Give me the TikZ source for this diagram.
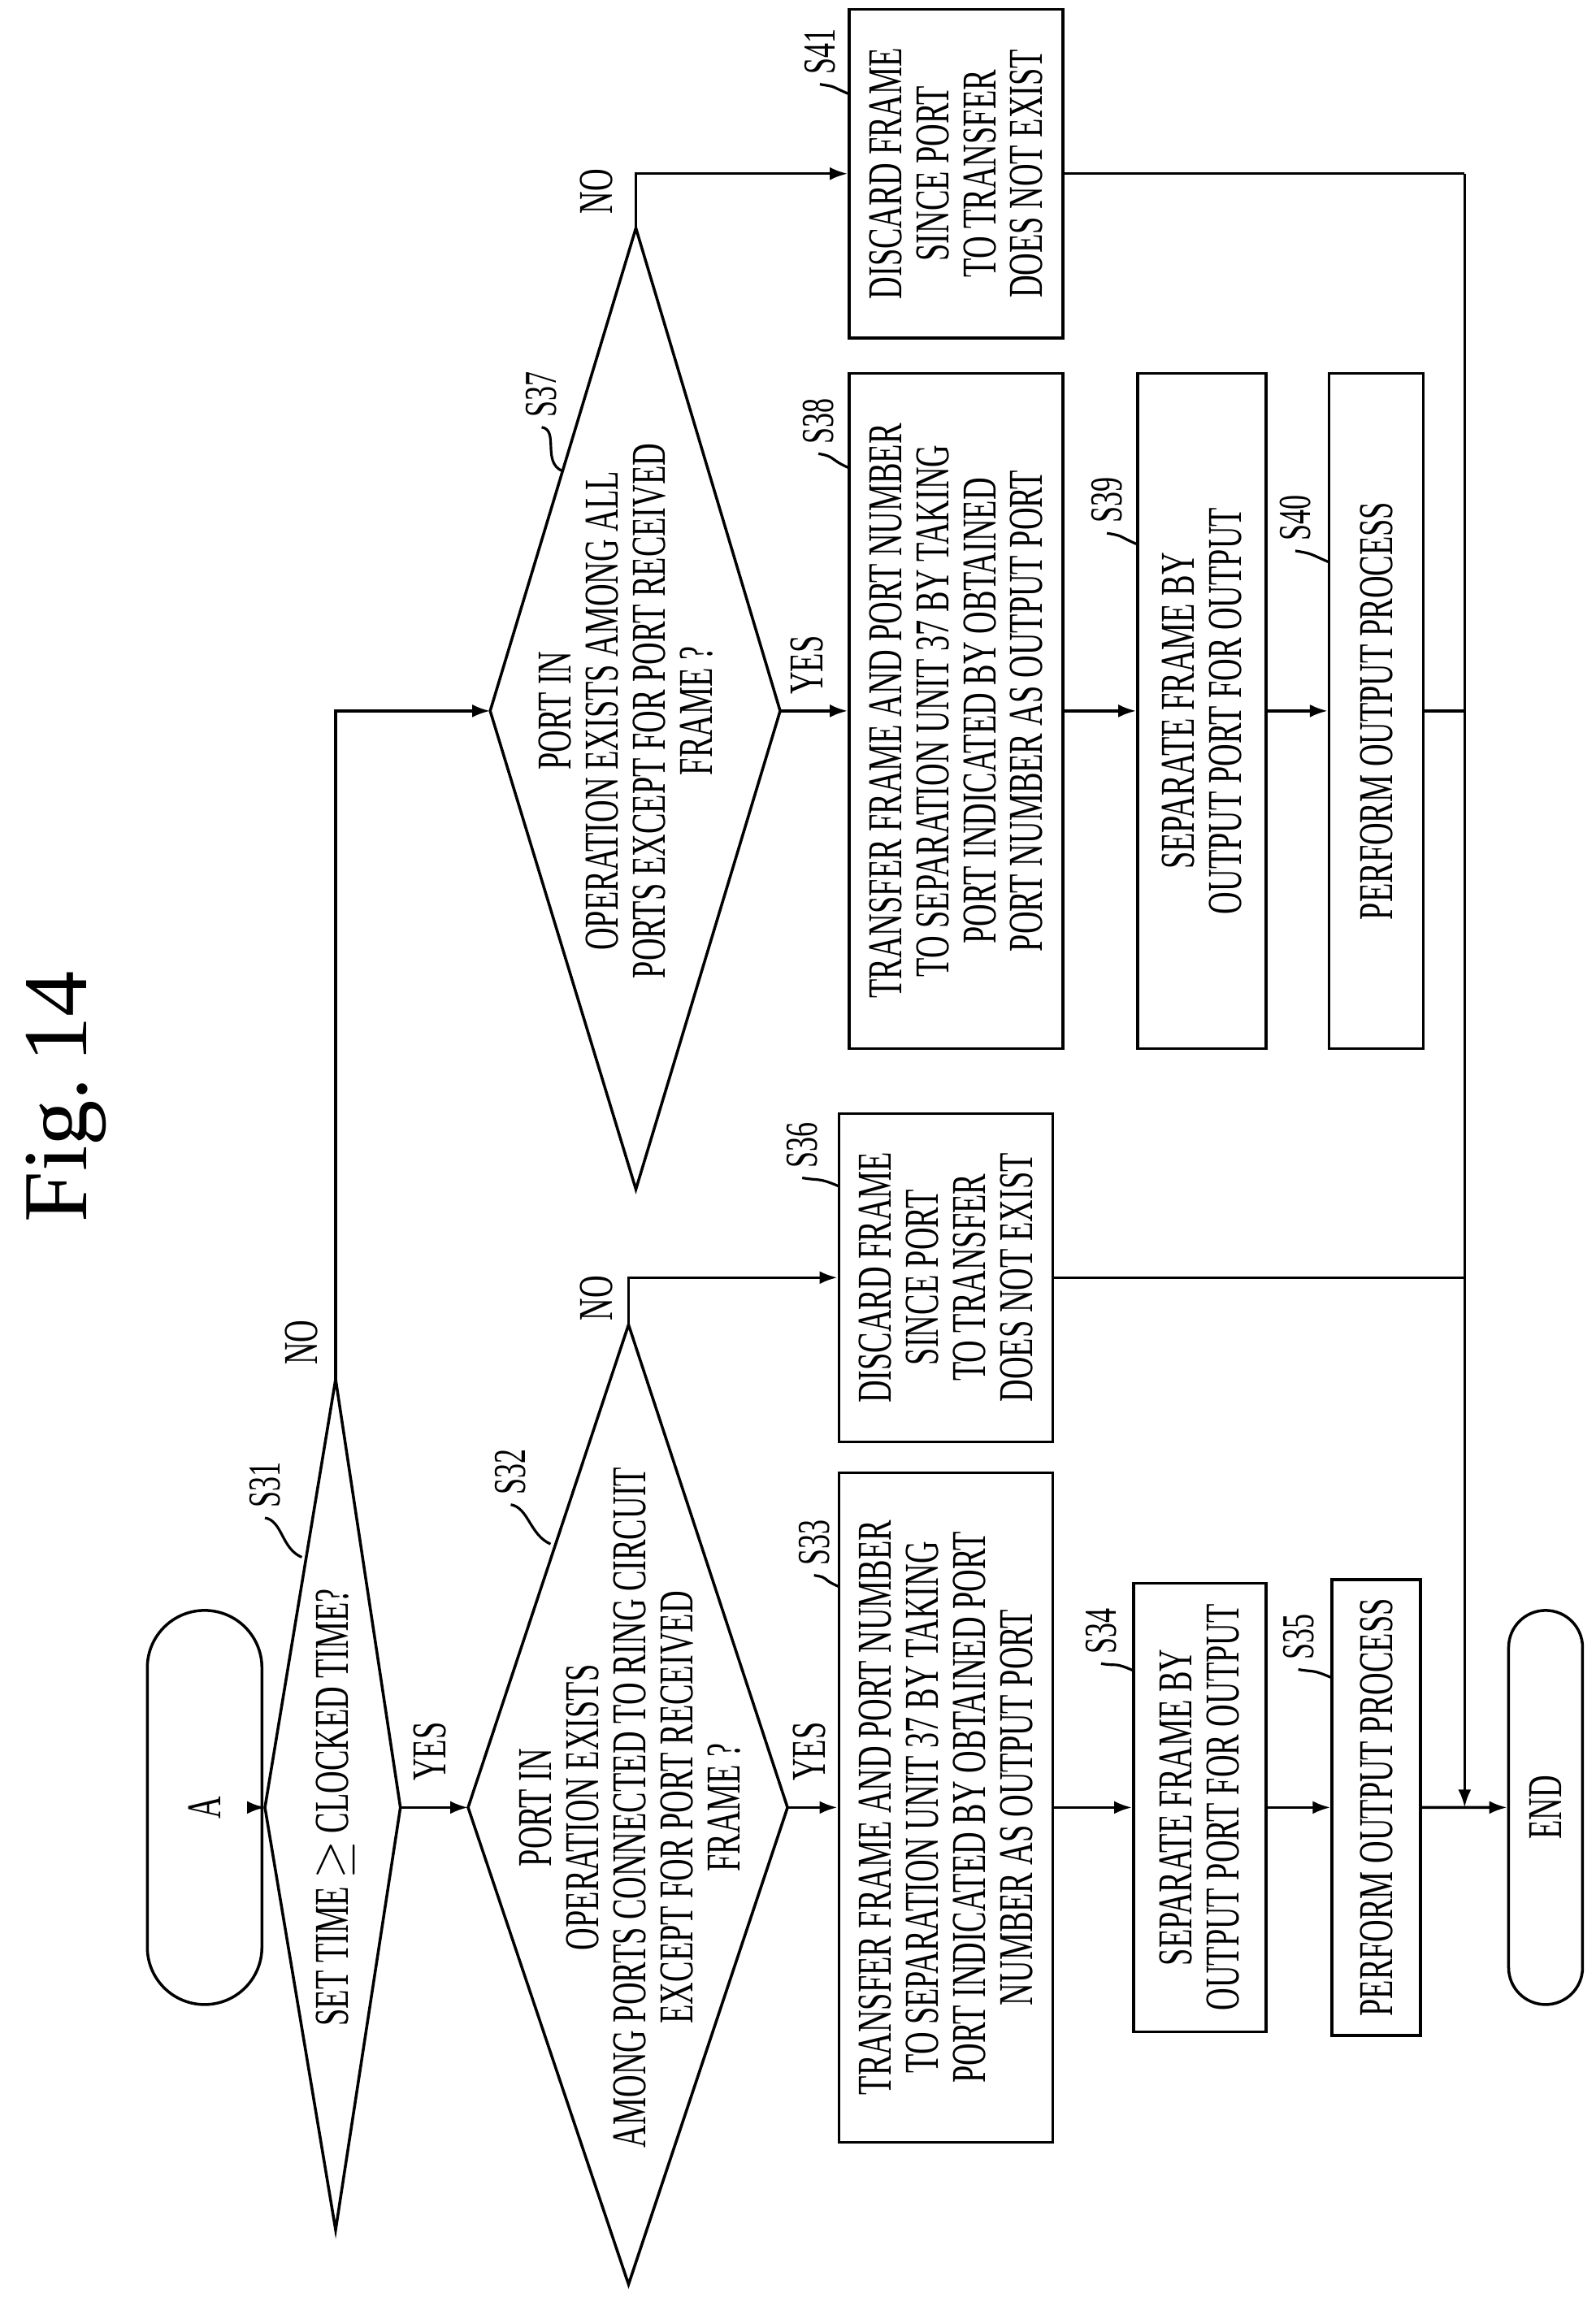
\documentclass[tikz,border=0pt]{standalone}
\usepackage{fontspec}
\setmainfont{Liberation Serif}[FakeStretch=0.64]
\newfontfamily\titlefont{Liberation Serif}
\usetikzlibrary{arrows.meta,shapes.misc}
\begin{document}
\begin{tikzpicture}[x=0.01811cm,y=-0.01811cm,line width=1pt,
  every node/.style={rotate=90,font=\fontsize{17}{16.5}\selectfont,inner sep=0pt},
  box/.style={draw,align=center,line width=1pt},
  term/.style={draw,rounded rectangle,minimum width=4.85cm},
  arr/.style={-{Latex[length=0.22cm,width=0.16cm]}},
  lbl/.style={font=\fontsize{16}{16}\selectfont}]
\useasboundingbox (0,0) rectangle (1084,1564);
\node[font=\titlefont\fontsize{32}{32}\selectfont] (title) at (45,745) {Fig.\,14};
% terminals
\node[term,minimum height=1.41cm] (A) at (139,1228) {A};
\node[term,minimum height=0.91cm] (END) at (1050,1228) {END};
% diamonds
\coordinate (s31l) at (180,1228); \coordinate (s31r) at (272,1228);
\coordinate (s31t) at (228,937); \coordinate (s31b) at (228,1515);
\coordinate (s32l) at (318,1228); \coordinate (s32r) at (535,1228);
\coordinate (s32t) at (427,900); \coordinate (s32b) at (427,1552);
\coordinate (s37l) at (333,483); \coordinate (s37r) at (530,483);
\coordinate (s37t) at (432,155); \coordinate (s37b) at (432,808);
\draw (s31l) -- (s31t) -- (s31r) -- (s31b) -- cycle;
\draw (s32l) -- (s32t) -- (s32r) -- (s32b) -- cycle;
\draw (s37l) -- (s37t) -- (s37r) -- (s37b) -- cycle;
\node (t31) at (228,1228) {SET TIME $\geq$ CLOCKED TIME?};
\node[align=center] (t32) at (428,1228) {PORT IN\\OPERATION EXISTS\\AMONG PORTS CONNECTED TO RING CIRCUIT\\EXCEPT FOR PORT RECEIVED\\FRAME ?};
\node[align=center] (t37) at (425,483) {PORT IN\\OPERATION EXISTS AMONG ALL\\PORTS EXCEPT FOR PORT RECEIVED\\FRAME ?};
% boxes
\node[box,minimum width=8.24cm,minimum height=2.63cm] (S33) at (642.5,1228) {TRANSFER FRAME AND PORT NUMBER\\TO SEPARATION UNIT 37 BY TAKING\\PORT INDICATED BY OBTAINED PORT\\NUMBER AS OUTPUT PORT};
\node[box,minimum width=5.52cm,minimum height=1.63cm] (S34) at (815,1228) {SEPARATE FRAME BY\\OUTPUT PORT FOR OUTPUT};
\node[box,minimum width=5.61cm,minimum height=1.09cm] (S35) at (935,1228) {PERFORM OUTPUT PROCESS};
\node[box,minimum width=4.04cm,minimum height=2.63cm] (S36) at (642.5,868) {DISCARD FRAME\\SINCE PORT\\TO TRANSFER\\DOES NOT EXIST};
\node[box,minimum width=8.31cm,minimum height=2.63cm] (S38) at (649.5,483) {TRANSFER FRAME AND PORT NUMBER\\TO SEPARATION UNIT 37 BY TAKING\\PORT INDICATED BY OBTAINED\\PORT NUMBER AS OUTPUT PORT};
\node[box,minimum width=8.31cm,minimum height=1.58cm] (S39) at (816.5,483) {SEPARATE FRAME BY\\OUTPUT PORT FOR OUTPUT};
\node[box,minimum width=8.31cm,minimum height=1.16cm] (S40) at (935,483) {PERFORM OUTPUT PROCESS};
\node[box,minimum width=4.04cm,minimum height=2.63cm] (S41) at (649.5,118) {DISCARD FRAME\\SINCE PORT\\TO TRANSFER\\DOES NOT EXIST};
% connectors
\draw[arr] (A) -- (s31l);
\draw[arr] (s31r) -- (s32l);
\draw[arr] (s31t) |- (s37l);
\draw[arr] (s32r) -- (S33);
\draw[arr] (s32t) |- (S36);
\draw[arr] (S33) -- (S34);
\draw[arr] (S34) -- (S35);
\draw[arr] (S35) -- (END);
\draw[arr] (s37r) -- (S38);
\draw[arr] (s37t) |- (S41);
\draw[arr] (S38) -- (S39);
\draw[arr] (S39) -- (S40);
\coordinate (col) at (995,118);
\coordinate (col36) at (995,868);
\coordinate (col40) at (995,483);
\coordinate (colend) at (995,1228);
\draw (S41) -- (col);
\draw (S36) -- (col36);
\draw (S40) -- (col40);
\draw[arr] (col) -- (colend);
% yes/no
\node (y1) at (292,1190) {YES};
\node (y2) at (550,1190) {YES};
\node (y3) at (548,452) {YES};
\node (n1) at (205,912) {NO};
\node (n2) at (405,882) {NO};
\node (n3) at (405,130) {NO};
% step labels
\foreach \nm/\px/\py/\tx/\ty in {S31/180/1009/205/1058, S32/347/1000/374/1049,
  S33/553/1048/570/1078, S34/748/1108/770/1135, S35/882/1112/905/1140,
  S36/545/778/570/806, S37/368/268/382/320, S38/556/286/577/318,
  S39/752/340/773/370, S40/880/352/903/382, S41/557/35/577/64}{
  \node[lbl] (L\nm) at (\px,\py) {\nm};
  \coordinate (E\nm) at (\tx,\ty);
  \draw[line width=0.9pt] ([yshift=-3pt]L\nm.west) .. controls +(12,2) and +(-14,-6) .. (E\nm);
}
\end{tikzpicture}
\end{document}
